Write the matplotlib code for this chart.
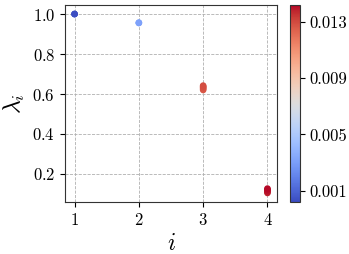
import numpy as np
import matplotlib
matplotlib.use("Agg")
import matplotlib.pyplot as plt

plt.rcParams['font.family'] = 'serif'
plt.rcParams['font.serif'] = ['cmr10']
plt.rcParams['mathtext.fontset'] = 'cm'
plt.rcParams['axes.formatter.use_mathtext'] = True

# indices, eigenvalues and colour values (several runs per index)
idx = [1, 1, 1, 2, 2, 2, 3, 3, 3, 3, 3, 3, 4, 4, 4, 4, 4, 4]
lam = [1.0, 1.0, 1.0, 0.956, 0.957, 0.955,
       0.620, 0.625, 0.630, 0.634, 0.638, 0.642,
       0.105, 0.110, 0.115, 0.119, 0.123, 0.127]
err = [0.0003, 0.0003, 0.0003, 0.0032, 0.0033, 0.0031,
       0.0126, 0.0127, 0.0128, 0.0128, 0.0129, 0.0129,
       0.0138, 0.0139, 0.0140, 0.0140, 0.0141, 0.0141]
cb_ticks = [0.001, 0.005, 0.009, 0.013]

fig = plt.figure(figsize=(3.49, 2.54), dpi=100)
ax = fig.add_axes([0.186, 0.205, 0.608, 0.775])
cax = fig.add_axes([0.831, 0.205, 0.028, 0.775])

sc = ax.scatter(idx, lam, c=err, cmap='coolwarm', vmin=0.0002, vmax=0.0142,
                s=14, zorder=3)
ax.grid(True, linestyle='--', color='#b0b0b0', linewidth=0.6)
ax.set_axisbelow(True)
ax.set_xticks([1, 2, 3, 4])
ax.set_yticks([0.2, 0.4, 0.6, 0.8, 1.0])
ax.set_xlabel(r'$i$', fontsize=17)
ax.set_ylabel(r'$\lambda_i$', fontsize=17)
ax.tick_params(labelsize=12)
for s in ax.spines.values():
    s.set_color('#333333')

cb = fig.colorbar(sc, cax=cax, ticks=cb_ticks)
cb.ax.set_yticklabels(['0.001', '0.005', '0.009', '0.013'])
cb.ax.tick_params(labelsize=12)
cb.outline.set_edgecolor('#333333')

fig.savefig('out.png', dpi=100)
